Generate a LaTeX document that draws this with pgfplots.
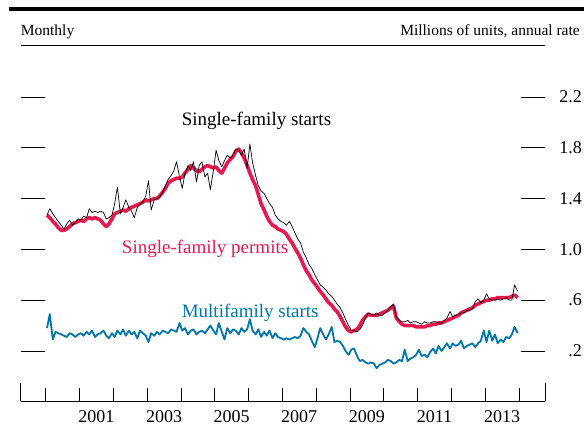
\documentclass[border=0pt]{standalone}
\usepackage{fontspec}
\setmainfont{Liberation Serif}
\usepackage{pgfplots}
\pgfplotsset{compat=1.18}
\usepackage{pgfplotstable}
\definecolor{sfred}{RGB}{232,24,80}
\definecolor{mfblue}{RGB}{0,118,170}

\pgfplotstableread{
t P S M
2000.04 1.27 1.27 0.38
2000.12 1.25 1.32 0.49
2000.21 1.22 1.28 0.29
2000.29 1.20 1.25 0.35
2000.37 1.17 1.22 0.34
2000.46 1.15 1.19 0.33
2000.54 1.15 1.16 0.32
2000.62 1.16 1.20 0.31
2000.71 1.18 1.23 0.34
2000.79 1.20 1.19 0.33
2000.87 1.21 1.21 0.31
2000.96 1.22 1.24 0.33
2001.04 1.23 1.23 0.34
2001.12 1.22 1.26 0.32
2001.21 1.24 1.25 0.35
2001.29 1.25 1.32 0.33
2001.37 1.24 1.29 0.36
2001.46 1.25 1.30 0.31
2001.54 1.24 1.29 0.33
2001.62 1.23 1.30 0.34
2001.71 1.20 1.29 0.36
2001.79 1.18 1.24 0.32
2001.87 1.20 1.25 0.30
2001.96 1.24 1.27 0.34
2002.04 1.28 1.36 0.31
2002.12 1.29 1.49 0.36
2002.21 1.30 1.28 0.33
2002.29 1.31 1.33 0.37
2002.37 1.30 1.39 0.32
2002.46 1.32 1.33 0.36
2002.54 1.33 1.30 0.33
2002.62 1.34 1.25 0.35
2002.71 1.35 1.33 0.30
2002.79 1.36 1.36 0.36
2002.87 1.37 1.37 0.34
2002.96 1.39 1.42 0.32
2003.04 1.38 1.54 0.27
2003.12 1.39 1.31 0.34
2003.21 1.40 1.39 0.32
2003.29 1.40 1.40 0.35
2003.37 1.42 1.41 0.33
2003.46 1.45 1.45 0.36
2003.54 1.48 1.50 0.35
2003.62 1.52 1.55 0.34
2003.71 1.54 1.58 0.37
2003.79 1.55 1.62 0.36
2003.87 1.56 1.69 0.35
2003.96 1.56 1.57 0.42
2004.04 1.57 1.48 0.36
2004.12 1.60 1.60 0.38
2004.21 1.63 1.66 0.33
2004.29 1.66 1.62 0.36
2004.37 1.64 1.69 0.37
2004.46 1.62 1.53 0.33
2004.54 1.61 1.66 0.35
2004.62 1.63 1.69 0.36
2004.71 1.65 1.57 0.34
2004.79 1.66 1.60 0.37
2004.87 1.65 1.47 0.40
2004.96 1.64 1.62 0.36
2005.04 1.65 1.78 0.33
2005.12 1.62 1.70 0.42
2005.21 1.60 1.65 0.35
2005.29 1.64 1.70 0.29
2005.37 1.68 1.74 0.38
2005.46 1.71 1.72 0.34
2005.54 1.73 1.74 0.37
2005.62 1.77 1.79 0.36
2005.71 1.79 1.78 0.33
2005.79 1.76 1.74 0.38
2005.87 1.72 1.79 0.35
2005.96 1.66 1.64 0.37
2006.04 1.60 1.83 0.45
2006.12 1.55 1.68 0.36
2006.21 1.50 1.58 0.33
2006.29 1.43 1.50 0.37
2006.37 1.36 1.46 0.31
2006.46 1.31 1.44 0.35
2006.54 1.26 1.40 0.32
2006.62 1.22 1.36 0.36
2006.71 1.19 1.33 0.30
2006.79 1.18 1.27 0.34
2006.87 1.16 1.24 0.31
2006.96 1.15 1.22 0.30
2007.04 1.14 1.21 0.29
2007.12 1.12 1.19 0.30
2007.21 1.08 1.22 0.29
2007.29 1.05 1.18 0.30
2007.37 1.01 1.13 0.31
2007.46 0.97 1.08 0.30
2007.54 0.93 1.05 0.32
2007.62 0.88 0.98 0.38
2007.71 0.83 0.93 0.35
2007.79 0.80 0.88 0.33
2007.87 0.76 0.85 0.28
2007.96 0.73 0.80 0.23
2008.04 0.70 0.76 0.30
2008.12 0.67 0.72 0.38
2008.21 0.64 0.70 0.33
2008.29 0.61 0.68 0.29
2008.37 0.58 0.65 0.33
2008.46 0.56 0.63 0.39
2008.54 0.53 0.60 0.27
2008.62 0.51 0.57 0.28
2008.71 0.47 0.54 0.27
2008.79 0.43 0.50 0.24
2008.87 0.39 0.45 0.20
2008.96 0.36 0.40 0.17
2009.04 0.35 0.36 0.21
2009.12 0.36 0.36 0.22
2009.21 0.37 0.35 0.16
2009.29 0.40 0.37 0.12
2009.37 0.44 0.40 0.13
2009.46 0.47 0.46 0.11
2009.54 0.49 0.50 0.10
2009.62 0.48 0.49 0.11
2009.71 0.48 0.48 0.10
2009.79 0.48 0.50 0.064
2009.87 0.49 0.48 0.09
2009.96 0.50 0.48 0.10
2010.04 0.51 0.50 0.11
2010.12 0.52 0.52 0.13
2010.21 0.54 0.55 0.12
2010.29 0.55 0.57 0.10
2010.37 0.46 0.47 0.11
2010.46 0.43 0.44 0.13
2010.54 0.41 0.43 0.12
2010.62 0.40 0.43 0.21
2010.71 0.40 0.44 0.12
2010.79 0.40 0.42 0.14
2010.87 0.40 0.43 0.15
2010.96 0.39 0.43 0.17
2011.04 0.39 0.42 0.21
2011.12 0.39 0.41 0.16
2011.21 0.39 0.43 0.17
2011.29 0.40 0.42 0.15
2011.37 0.40 0.42 0.19
2011.46 0.41 0.43 0.22
2011.54 0.41 0.43 0.18
2011.62 0.42 0.42 0.24
2011.71 0.42 0.42 0.20
2011.79 0.43 0.44 0.23
2011.87 0.44 0.46 0.26
2011.96 0.45 0.51 0.22
2012.04 0.46 0.47 0.26
2012.12 0.47 0.48 0.24
2012.21 0.48 0.49 0.25
2012.29 0.50 0.50 0.28
2012.37 0.51 0.50 0.22
2012.46 0.52 0.52 0.24
2012.54 0.53 0.52 0.25
2012.62 0.54 0.53 0.26
2012.71 0.56 0.59 0.23
2012.79 0.57 0.61 0.26
2012.87 0.58 0.58 0.28
2012.96 0.59 0.60 0.36
2013.04 0.60 0.65 0.27
2013.12 0.60 0.61 0.36
2013.21 0.61 0.60 0.28
2013.29 0.61 0.60 0.33
2013.37 0.62 0.61 0.26
2013.46 0.62 0.60 0.29
2013.54 0.62 0.61 0.27
2013.62 0.62 0.62 0.31
2013.71 0.62 0.60 0.30
2013.79 0.63 0.60 0.33
2013.87 0.64 0.72 0.39
2013.96 0.62 0.67 0.34
}\data

\begin{document}
\begin{tikzpicture}
\useasboundingbox (-20.7pt,-26pt) rectangle (563.3pt,401pt);
\begin{axis}[
  at={(0pt,0pt)}, anchor=south west,
  scale only axis, width=524.3pt, height=356pt,
  xmin=1999.26, xmax=2014.77, ymin=-0.194, ymax=2.609,
  axis x line*=bottom, axis y line*=box,
  y axis line style={draw=none},
  x axis line style={line width=0.8pt},
  tick align=inside,
  major tick length=24pt,
  minor tick length=13pt,
  xtick={2001.5,2003.5,2005.5,2007.5,2009.5,2011.5,2013.5},
  xticklabels={2001,2003,2005,2007,2009,2011,2013},
  minor xtick={2000,2001,...,2014},
  major x tick style={draw=none},
  minor x tick style={black, line width=0.8pt},
  ytick={0.2,0.6,1.0,1.4,1.8,2.2},
  yticklabels={.2,.6,1.0,1.4,1.8,2.2},
  major y tick style={black, line width=0.8pt},
  yticklabel pos=right,
  /pgf/number format/assume math mode=true,
  xticklabel style={anchor=base, yshift=-22pt, inner sep=0pt, font=\fontsize{18}{20}\selectfont},
  yticklabel style={anchor=east, xshift=37pt, inner sep=0pt, font=\fontsize{18}{20}\selectfont},
  clip=false,
]
\addplot[sfred, line width=3.6pt, line join=round, mark=none] table[x=t,y=P]{\data};
\addplot[black, line width=0.7pt, line join=round, mark=none] table[x=t,y=S]{\data};
\addplot[mfblue, line width=1.8pt, line join=round, mark=none] table[x=t,y=M]{\data};
\node[anchor=base west, inner sep=0pt, font=\fontsize{19}{21}\selectfont] at (axis cs:2004.02,1.972) {Single-family starts};
\node[anchor=base west, inner sep=0pt, text=sfred, font=\fontsize{19}{21}\selectfont] at (axis cs:2002.25,0.964) {Single-family permits};
\node[anchor=base west, inner sep=0pt, text=mfblue, font=\fontsize{19}{21}\selectfont] at (axis cs:2004.02,0.46) {Multifamily starts};
\end{axis}
\draw[line width=0.8pt] (0pt,0pt) -- (0pt,18pt);
\draw[line width=0.8pt] (524.3pt,0pt) -- (524.3pt,18pt);
\draw[line width=3.2pt] (-11.7pt,392pt) -- (563.3pt,392pt);
\draw[line width=0.8pt] (0pt,356pt) -- (524.3pt,356pt);
\node[anchor=base west, inner sep=0pt, font=\fontsize{15.5}{17}\selectfont] at (0pt,365.3pt) {Monthly};
\node[anchor=base east, inner sep=0pt, font=\fontsize{15.5}{17}\selectfont] at (559.3pt,365.3pt) {Millions of units, annual rate};
\end{tikzpicture}
\end{document}
